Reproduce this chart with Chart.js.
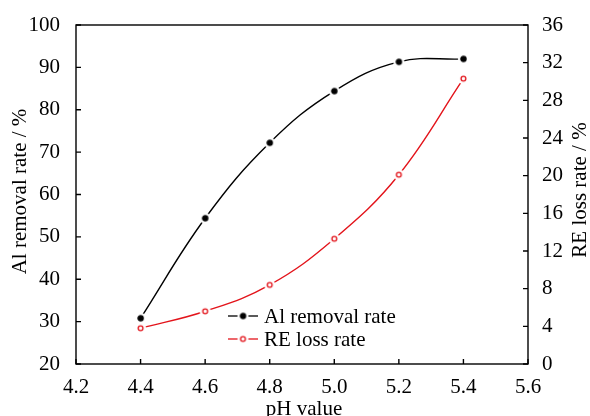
<!DOCTYPE html>
<html>
<head>
<meta charset="utf-8">
<script src="https://cdn.jsdelivr.net/npm/chart.js@4"></script>
<style>
  html, body { margin: 0; padding: 0; background: #fff; }
  #wrap { width: 590px; height: 416px; }
</style>
</head>
<body>
<div id="wrap"><canvas id="ph-chart" width="590" height="416"></canvas></div>
<script>
// pH sweep and the two measured series
const phValues = [4.4, 4.6, 4.8, 5.0, 5.2, 5.4];
const alRemoval = [30.8, 54.4, 72.2, 84.4, 91.3, 92.0];
const reLoss = [3.8, 5.6, 8.4, 13.3, 20.1, 30.3];

const xTicks = [4.2, 4.4, 4.6, 4.8, 5.0, 5.2, 5.4, 5.6];
const alTicks = [20, 30, 40, 50, 60, 70, 80, 90, 100];
const reTicks = [0, 4, 8, 12, 16, 20, 24, 28, 32, 36];

const FONT = "'Liberation Serif', 'Times New Roman', serif";
const RED = '#e3141b';

// marker sprite with a white halo so the curve stops short of each point
function makeMarker(fill, stroke, r) {
    const halo = 5.5;
    const size = Math.ceil(halo * 2) + 2;
    const c = document.createElement('canvas');
    c.width = size; c.height = size;
    const g = c.getContext('2d');
    const m = size / 2;
    g.fillStyle = '#fff';
    g.beginPath(); g.arc(m, m, halo, 0, Math.PI * 2); g.fill();
    g.beginPath(); g.arc(m, m, r, 0, Math.PI * 2);
    g.fillStyle = fill; g.fill();
    g.lineWidth = 1.3; g.strokeStyle = stroke; g.stroke();
    return c;
}
const blackDot = makeMarker('#000', '#000', 2.6);
const redRing = makeMarker('#fff', RED, 2.4);

// frame, inward ticks, axis titles and in-plot legend
const framePlugin = {
    id: 'frame',
    afterDraw(chart) {
        const ctx = chart.ctx;
        const a = chart.chartArea;
        const sx = chart.scales.x, sy = chart.scales.y, sr = chart.scales.y1;
        ctx.save();
        ctx.strokeStyle = '#000';
        ctx.lineWidth = 1.4;
        ctx.strokeRect(a.left, a.top, a.right - a.left, a.bottom - a.top);
        const tl = 5;
        ctx.beginPath();
        xTicks.forEach(v => {
            const p = sx.getPixelForValue(v);
            ctx.moveTo(p, a.bottom); ctx.lineTo(p, a.bottom - tl);
        });
        alTicks.forEach(v => {
            const p = sy.getPixelForValue(v);
            ctx.moveTo(a.left, p); ctx.lineTo(a.left + tl, p);
        });
        reTicks.forEach(v => {
            const p = sr.getPixelForValue(v);
            ctx.moveTo(a.right, p); ctx.lineTo(a.right - tl, p);
        });
        ctx.stroke();

        ctx.fillStyle = '#000';
        ctx.font = '21px ' + FONT;
        ctx.textAlign = 'center';
        ctx.textBaseline = 'alphabetic';
        ctx.fillText('pH value', (a.left + a.right) / 2 + 2, 415);

        ctx.save();
        ctx.translate(26, 191.5);
        ctx.rotate(-Math.PI / 2);
        ctx.fillText('Al removal rate / %', 0, 0);
        ctx.restore();

        ctx.save();
        ctx.translate(586, 190);
        ctx.rotate(-Math.PI / 2);
        ctx.fillText('RE loss rate / %', 0, 0);
        ctx.restore();

        // legend rows
        const rows = [
            { label: 'Al removal rate', color: '#000', marker: blackDot, y: 316 },
            { label: 'RE loss rate', color: RED, marker: redRing, y: 339 }
        ];
        const lx0 = 228, lx1 = 258;
        rows.forEach(r => {
            ctx.strokeStyle = r.color;
            ctx.lineWidth = 1.3;
            ctx.beginPath();
            ctx.moveTo(lx0, r.y); ctx.lineTo(lx1, r.y);
            ctx.stroke();
            const mx = (lx0 + lx1) / 2;
            ctx.drawImage(r.marker, mx - r.marker.width / 2, r.y - r.marker.height / 2);
            ctx.fillStyle = '#000';
            ctx.textAlign = 'left';
            ctx.textBaseline = 'middle';
            ctx.fillText(r.label, 264, r.y + 1);
        });
        ctx.restore();
    }
};

new Chart(document.getElementById('ph-chart'), {
    type: 'line',
    data: {
        datasets: [
            {
                label: 'Al removal rate',
                data: phValues.map((x, i) => ({ x, y: alRemoval[i] })),
                yAxisID: 'y',
                borderColor: '#000',
                borderWidth: 1.4,
                tension: 0.4,
                pointStyle: blackDot,
                pointRadius: 6
            },
            {
                label: 'RE loss rate',
                data: phValues.map((x, i) => ({ x, y: reLoss[i] })),
                yAxisID: 'y1',
                borderColor: RED,
                borderWidth: 1.4,
                tension: 0.4,
                pointStyle: redRing,
                pointRadius: 6
            }
        ]
    },
    options: {
        responsive: false,
        animation: false,
        layout: { padding: { top: 25, left: 0, right: 0, bottom: 0 } },
        plugins: {
            legend: { display: false },
            tooltip: { enabled: false }
        },
        scales: {
            x: {
                type: 'linear',
                min: 4.2, max: 5.6,
                afterFit: s => { s.height = 52; },
                afterBuildTicks: s => { s.ticks = xTicks.map(v => ({ value: v })); },
                grid: { display: false },
                border: { display: false },
                ticks: {
                    padding: 3,
                    color: '#000',
                    font: { family: FONT, size: 21 },
                    callback: v => Number(v).toFixed(1)
                }
            },
            y: {
                position: 'left',
                min: 20, max: 100,
                afterFit: s => { s.width = 76; },
                afterBuildTicks: s => { s.ticks = alTicks.map(v => ({ value: v })); },
                grid: { display: false },
                border: { display: false },
                ticks: {
                    padding: 8,
                    color: '#000',
                    font: { family: FONT, size: 21 }
                }
            },
            y1: {
                position: 'right',
                min: 0, max: 36,
                afterFit: s => { s.width = 62; },
                afterBuildTicks: s => { s.ticks = reTicks.map(v => ({ value: v })); },
                grid: { display: false },
                border: { display: false },
                ticks: {
                    padding: 6,
                    color: '#000',
                    font: { family: FONT, size: 21 }
                }
            }
        }
    },
    plugins: [framePlugin]
});
</script>
</body>
</html>
